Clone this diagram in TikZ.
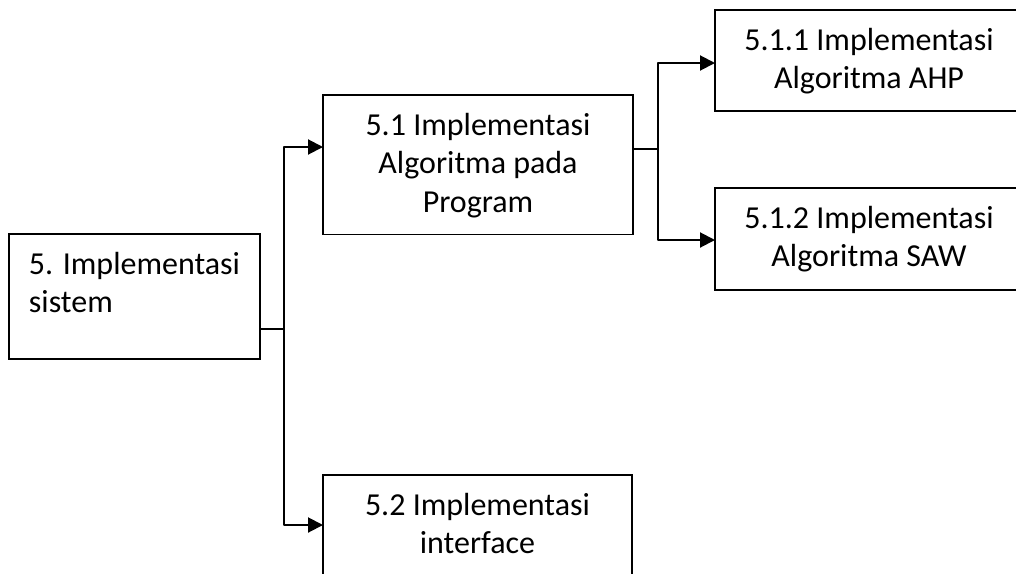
\documentclass[tikz,border=0pt]{standalone}
\usepackage{fontspec}
\setmainfont{Carlito}
\usetikzlibrary{arrows.meta}
\newcommand\fsup{\rule{0pt}{23pt}}
\newcommand\fsdn[1]{\rule[-#1]{0pt}{#1}}
\begin{document}
\begin{tikzpicture}[x=1pt,y=-1pt,
  box/.style={draw=black, line width=1.6pt, outer sep=0pt, inner xsep=4pt, inner ysep=17pt,
    font=\fontsize{32}{38.5}\selectfont, align=center, anchor=north west},
  conn/.style={line width=2pt, line join=round},
  arr/.style={conn, -{Triangle[length=15pt,width=15pt]}},
  thinln/.style={line width=1.3pt}]
\useasboundingbox (0,0) rectangle (1016,573);
\clip (0,0) rectangle (1016,573);
\node[box, minimum width=251pt, align=left] (A) at (9,234) {\fsup 5. Implementasi\\sistem\fsdn{29.5pt}};
\node[box, minimum width=310pt] (B) at (323,95) {\fsup 5.1 Implementasi\\Algoritma pada\\Program\fsdn{5pt}};
\node[box, minimum width=308pt] (C) at (715,10) {\fsup 5.1.1 Implementasi\\Algoritma AHP\fsdn{5.5pt}};
\node[box, minimum width=308pt] (D) at (715,188) {\fsup 5.1.2 Implementasi\\Algoritma SAW\fsdn{6.5pt}};
\node[box, minimum width=309pt] (E) at (323,475) {\fsup 5.2 Implementasi\\interface\fsdn{40pt}};
\coordinate (j1) at (284,329);
\coordinate (j2) at (658,149);
\coordinate (yB) at (0,147);
\coordinate (yE) at (0,525);
\coordinate (yC) at (0,63);
\coordinate (yD) at (0,240);
\draw[thinln] (A.east |- j1) -- (j1);
\draw[arr] (j1) |- (B.west |- yB);
\draw[arr] (j1) |- (E.west |- yE);
\draw[thinln] (B.east |- j2) -- (j2);
\draw[arr] (j2) |- (C.west |- yC);
\draw[arr] (j2) |- (D.west |- yD);
\end{tikzpicture}
\end{document}
